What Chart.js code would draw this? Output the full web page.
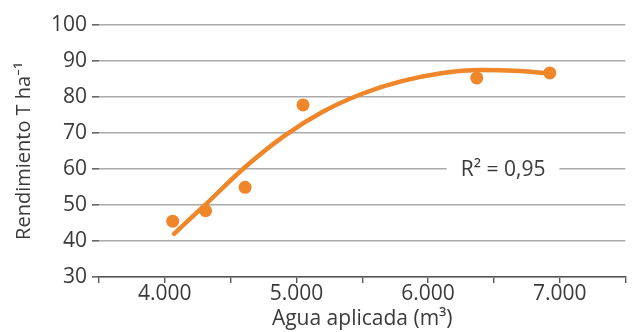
<!doctype html>
<html lang="es">
<head>
  <meta charset="utf-8">
  <title>Rendimiento vs agua aplicada</title>
  <script src="https://cdn.jsdelivr.net/npm/chart.js"></script>
  <style>
    html, body { margin: 0; padding: 0; background: #fff; }
    .wrap { width: 632px; height: 332px; position: relative; }
  </style>
</head>
<body>
  <div class="wrap"><canvas id="chart" width="632" height="332"></canvas></div>

  <script>
    // measured points
    const aguaX = [4060, 4310, 4610, 5050, 6370, 6925];
    const rendY = [45.5, 48.4, 54.9, 77.8, 85.3, 86.7];

    // trend curve
    const curvaX = [4070, 4300, 4600, 4900, 5200, 5500, 5800, 6100, 6400, 6700, 6910];
    const curvaY = [42.0, 49.8, 60.2, 69.0, 75.9, 80.9, 84.4, 86.6, 87.5, 87.2, 86.6];

    const yTicks = [30, 40, 50, 60, 70, 80, 90, 100];
    const r2Text = 'R² = 0,95';
    const r2Pos = { x: 6570, y: 60 };

    const orange = '#ef8629';
    const textCol = '#3a3a3a';
    const font = '"Open Sans", "Noto Sans", sans-serif';

    const pts = (xs, ys) => xs.map((x, i) => ({ x: x, y: ys[i] }));

    // white box over the 60 gridline with the R² text
    const r2Label = {
      id: 'r2Label',
      beforeDatasetsDraw(chart) {
        const ctx = chart.ctx;
        const px = chart.scales.x.getPixelForValue(r2Pos.x);
        const py = chart.scales.y.getPixelForValue(r2Pos.y);
        ctx.save();
        ctx.font = '21px ' + font;
        const w = ctx.measureText(r2Text).width;
        ctx.fillStyle = '#fff';
        ctx.fillRect(px - w / 2 - 14, py - 4, w + 28, 8);
        ctx.fillStyle = textCol;
        ctx.textAlign = 'center';
        ctx.textBaseline = 'middle';
        ctx.fillText(r2Text, px, py + 1);
        ctx.restore();
      }
    };

    new Chart(document.getElementById('chart'), {
      type: 'scatter',
      data: {
        datasets: [
          {
            type: 'line',
            data: pts(curvaX, curvaY),
            borderColor: orange,
            borderWidth: 4.5,
            pointRadius: 0,
            cubicInterpolationMode: 'monotone',
            fill: false,
            borderCapStyle: 'round'
          },
          {
            data: pts(aguaX, rendY),
            backgroundColor: orange,
            borderColor: orange,
            pointRadius: 6.5,
            pointBorderWidth: 0
          }
        ]
      },
      options: {
        responsive: false,
        animation: false,
        layout: { padding: { top: 25, right: 2, left: 0, bottom: 0 } },
        plugins: { legend: { display: false }, tooltip: { enabled: false } },
        scales: {
          x: {
            type: 'linear',
            min: 3500,
            max: 7500,
            afterFit: s => { s.height = 55; },
            border: { display: true, color: '#555', width: 1.6 },
            grid: { drawOnChartArea: false, drawTicks: true, tickLength: 6, color: '#555', lineWidth: 1.4 },
            ticks: {
              stepSize: 500,
              padding: -2,
              color: textCol,
              font: { family: font, size: 21 },
              callback: v => v % 1000 === 0 ? (v / 1000) + '.000' : ''
            },
            title: {
              display: true,
              text: 'Agua aplicada (m³)',
              color: textCol,
              font: { family: font, size: 21 },
              padding: { top: -9, bottom: 0 }
            }
          },
          y: {
            min: 30,
            max: 100,
            afterFit: s => { s.width = 99; },
            afterBuildTicks: s => { s.ticks = yTicks.map(v => ({ value: v })); },
            border: { display: false },
            grid: { color: '#aaa', lineWidth: 1.6, tickLength: 7, tickColor: '#666' },
            ticks: {
              padding: 5,
              color: textCol,
              font: { family: font, size: 21 }
            },
            title: {
              display: true,
              text: 'Rendimiento T ha⁻¹',
              color: textCol,
              font: { family: font, size: 20 },
              padding: { top: 12, bottom: 4 }
            }
          }
        }
      },
      plugins: [r2Label]
    });
  </script>
</body>
</html>
